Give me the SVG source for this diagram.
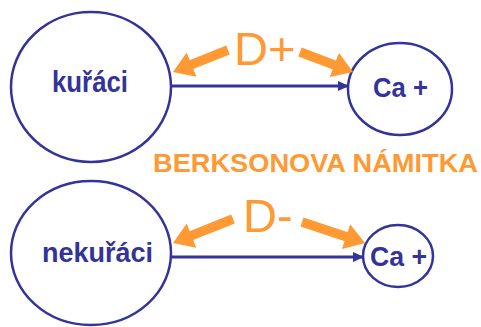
<svg xmlns="http://www.w3.org/2000/svg" width="481" height="327" viewBox="0 0 481 327">
  <style>
    .node { fill: #ffffff; stroke: #333399; stroke-width: 2.5; }
    .lbl { font-family: "Liberation Sans", Arial, sans-serif; font-weight: bold; fill: #333399; }
    .orange { font-family: "Liberation Sans", Arial, sans-serif; fill: #FF9933; }
    .link { stroke: #333399; stroke-width: 3; fill: none; marker-end: url(#blueHead); }
    .bias { stroke: #FF9933; stroke-width: 9.5; fill: none; marker-end: url(#orangeHead); }
  </style>
  <defs>
    <marker id="blueHead" markerUnits="userSpaceOnUse" markerWidth="12" markerHeight="10" refX="10" refY="5" orient="auto">
      <path d="M0,0 L11,5 L0,10 Z" fill="#333399"/>
    </marker>
    <marker id="orangeHead" markerUnits="userSpaceOnUse" markerWidth="22" markerHeight="28" refX="9" refY="14" orient="auto">
      <path d="M0,1 L20,14 L0,27 Z" fill="#FF9933"/>
    </marker>
  </defs>

  <!-- smokers group -->
  <g id="kuraci">
    <ellipse class="node" cx="91" cy="87" rx="80" ry="75"/>
    <text class="lbl" x="52" y="92" font-size="29" textLength="76" lengthAdjust="spacingAndGlyphs">kuřáci</text>
  </g>
  <g id="ca-top">
    <ellipse class="node" cx="400" cy="89" rx="52" ry="46"/>
    <text class="lbl" x="373" y="97" font-size="27" textLength="55" lengthAdjust="spacingAndGlyphs">Ca +</text>
  </g>

  <!-- non-smokers group -->
  <g id="nekuraci">
    <ellipse class="node" cx="91" cy="253" rx="80" ry="72"/>
    <text class="lbl" x="42" y="262" font-size="28" textLength="111" lengthAdjust="spacingAndGlyphs">nekuřáci</text>
  </g>
  <g id="ca-bottom">
    <ellipse class="node" cx="398" cy="256" rx="35" ry="31"/>
    <text class="lbl" x="370" y="266" font-size="27" textLength="57" lengthAdjust="spacingAndGlyphs">Ca +</text>
  </g>

  <!-- connectors -->
  <g id="connectors">
    <line class="link" x1="171" y1="86" x2="348" y2="86"/>
    <line class="link" x1="171" y1="257" x2="363" y2="257"/>
    <line class="bias" x1="228" y1="50" x2="183.2" y2="67.9"/>
    <line class="bias" x1="300" y1="52" x2="342.7" y2="68.1"/>
    <line class="bias" x1="233" y1="219" x2="183.2" y2="238.9"/>
    <line class="bias" x1="302" y1="222" x2="354.6" y2="239.5"/>
  </g>

  <!-- labels -->
  <g id="labels">
    <text class="orange" x="234" y="65" font-size="47">D+</text>
    <text class="orange" x="243" y="232" font-size="47">D-</text>
    <text class="orange" x="153" y="172" font-size="25" font-weight="bold" textLength="325" lengthAdjust="spacingAndGlyphs">BERKSONOVA NÁMITKA</text>
  </g>
</svg>
